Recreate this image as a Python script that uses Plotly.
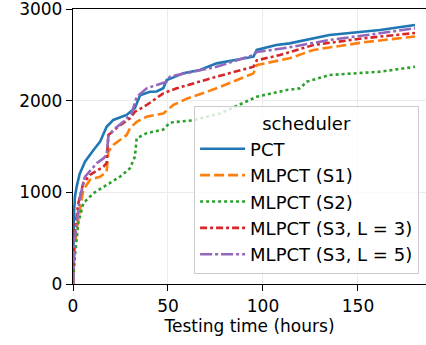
import plotly.graph_objects as go

pct_x = [0, 0.2, 0.5, 1, 1.9, 3.5, 6.3, 10.7, 14.2, 17.7, 21.2, 28.2, 32.6, 35.3, 40.5, 44, 47.5, 49.3, 50, 58, 66.8, 75.6, 95, 96.7, 107, 114, 135, 161.6, 175.6, 180]
pct_y = [0, 400, 750, 950, 1060, 1200, 1335, 1460, 1550, 1715, 1790, 1845, 1920, 2060, 2098, 2100, 2135, 2225, 2230, 2298, 2335, 2407, 2480, 2553, 2607, 2625, 2716, 2770, 2815, 2825]

s1_x = [0, 0.5, 1.9, 3.7, 5.4, 8.9, 14.2, 17.7, 18.6, 21.2, 28.2, 30, 33.5, 38.8, 47.5, 52.8, 59.8, 75.6, 95, 96.7, 114, 126.5, 152.8, 180]
s1_y = [0, 300, 590, 807, 1025, 1135, 1170, 1225, 1443, 1516, 1625, 1700, 1770, 1825, 1860, 1953, 2020, 2135, 2298, 2389, 2462, 2553, 2636, 2700]

s2_x = [0, 0.5, 1, 2.8, 5.4, 10.7, 17.7, 24.7, 30, 32.6, 33.5, 38.8, 47.5, 51, 59.8, 63.3, 77.4, 93, 96.7, 112.5, 119.5, 123, 135, 161.6, 180]
s2_y = [0, 150, 300, 665, 880, 990, 1080, 1170, 1262, 1390, 1590, 1645, 1685, 1760, 1780, 1785, 1860, 2007, 2043, 2116, 2135, 2207, 2280, 2316, 2370]

s3l3_x = [0, 0.3, 1, 2.8, 5.4, 8.9, 16, 17.7, 18.6, 23.8, 30, 32.6, 38.8, 47.5, 54.6, 75.6, 95, 96.7, 109, 126.5, 152.8, 180]
s3l3_y = [0, 300, 590, 880, 1100, 1190, 1280, 1320, 1625, 1716, 1808, 1880, 1953, 2080, 2135, 2262, 2370, 2440, 2498, 2607, 2680, 2738]

s3l5_x = [0, 0.3, 1, 3.7, 6.3, 12.5, 16, 17.7, 18.6, 21.2, 26.5, 30.9, 33.5, 38.8, 49.3, 51, 75.6, 95, 96.7, 110.7, 135, 161.6, 180]
s3l5_y = [0, 250, 510, 950, 1170, 1317, 1370, 1407, 1607, 1680, 1770, 1862, 2043, 2135, 2207, 2262, 2370, 2498, 2530, 2571, 2662, 2735, 2790]

names = ["PCT", "MLPCT (S1)", "MLPCT (S2)", "MLPCT (S3, L = 3)", "MLPCT (S3, L = 5)"]
colors = ["#1f77b4", "#ff7f0e", "#2ca02c", "#d62728", "#9467bd"]
dashes = ["solid", "10px,4px", "3px,3px", "7px,3px,3px,3px", "12px,3px,3px,3px"]
xs = [pct_x, s1_x, s2_x, s3l3_x, s3l5_x]
ys = [pct_y, s1_y, s2_y, s3l3_y, s3l5_y]

x_ticks = [0, 50, 100, 150]
y_ticks = [0, 1000, 2000, 3000]

fig = go.Figure()
for x, y, n, c, d in zip(xs, ys, names, colors, dashes):
    fig.add_trace(go.Scatter(x=x, y=y, mode="lines", name=n,
                             line=dict(color=c, width=2.6, dash=d)))

font = "DejaVu Sans"
fig.update_layout(
    width=426, height=345,
    margin=dict(l=73, r=0, t=9, b=61, autoexpand=False),
    paper_bgcolor="white", plot_bgcolor="white",
    font=dict(family=font, size=17, color="black"),
    showlegend=True,
    legend=dict(
        title=dict(text="scheduler", side="top center", font=dict(size=18)),
        x=0.343, xanchor="left", y=0.036, yanchor="bottom",
        bgcolor="rgba(255,255,255,0.8)", bordercolor="#cccccc", borderwidth=1,
        font=dict(size=18), itemwidth=45,
    ),
    xaxis=dict(
        range=[0, 185.8], tickvals=x_ticks, ticktext=[str(v) for v in x_ticks],
        showgrid=True, gridcolor="#ebebeb", gridwidth=1,
        showline=True, linecolor="black", linewidth=1.3, mirror=True,
        ticks="outside", ticklen=6, tickwidth=1.3, tickcolor="black",
        zeroline=False, automargin=False, ticklabeloverflow="allow",
        title=dict(text="Testing time (hours)", standoff=4, font=dict(size=17)),
        tickfont=dict(size=17),
    ),
    yaxis=dict(
        range=[0, 3000], tickvals=y_ticks, ticktext=[str(v) for v in y_ticks],
        showgrid=True, gridcolor="#ebebeb", gridwidth=1,
        showline=True, linecolor="black", linewidth=1.3, mirror=False,
        ticks="outside", ticklen=6, tickwidth=1.3, tickcolor="black",
        zeroline=False, automargin=False, ticklabeloverflow="allow",
        tickfont=dict(size=17),
    ),
)

fig.write_html("out.html", config={"displayModeBar": False},
               post_script="document.body.style.margin='0';document.body.style.overflow='hidden';")
